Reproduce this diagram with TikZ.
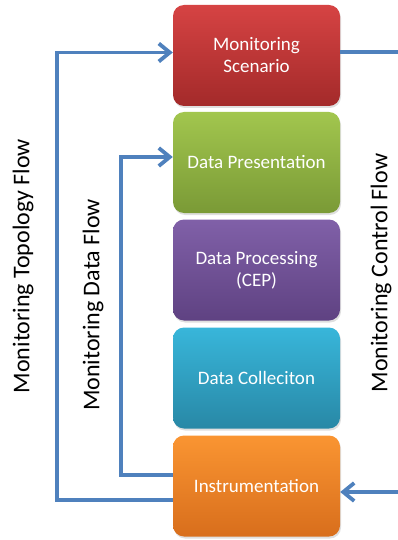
\documentclass[tikz,border=0pt]{standalone}
\usepackage{fontspec}
\setmainfont{Carlito}
\usetikzlibrary{arrows.meta,shadows}
\definecolor{flowblue}{HTML}{4F81BD}
\definecolor{redtop}{HTML}{D64343}\definecolor{redbot}{HTML}{A32A2A}
\definecolor{greentop}{HTML}{A2C64E}\definecolor{greenbot}{HTML}{7A9A36}
\definecolor{purptop}{HTML}{8060A8}\definecolor{purpbot}{HTML}{5F4282}
\definecolor{cyantop}{HTML}{38B6DA}\definecolor{cyanbot}{HTML}{2888A6}
\definecolor{orgtop}{HTML}{FA9532}\definecolor{orgbot}{HTML}{D86E1C}
\tikzset{
  layer/.style={draw=none, rounded corners=11pt, minimum width=167pt, minimum height=101pt,
    inner sep=0pt, align=center, text=white, font=\fontsize{19}{22}\selectfont,
    drop shadow={shadow xshift=1pt, shadow yshift=-2pt, opacity=0.25}},
  flow/.style={draw=flowblue, line width=3.8pt},
  flowarrow/.style={flow, -{Straight Barb[length=11pt,width=18pt]}},
  flowlabel/.style={rotate=90, font=\fontsize{24}{28}\selectfont, text=black, inner sep=0pt}
}
\begin{document}
\begin{tikzpicture}[x=1pt,y=-1pt]
\useasboundingbox (0,0) rectangle (398,540);
\node[layer, top color=redtop, bottom color=redbot] (scen) at (256.5,55.5) {Monitoring\\Scenario};
\node[layer, top color=greentop, bottom color=greenbot] (pres) at (256.5,162.5) {Data Presentation};
\node[layer, top color=purptop, bottom color=purpbot] (proc) at (256.5,270) {Data Processing\\(CEP)};
\node[layer, top color=cyantop, bottom color=cyanbot] (coll) at (256.5,378) {Data Colleciton};
\node[layer, top color=orgtop, bottom color=orgbot] (inst) at (256.5,486) {Instrumentation};
% free ends at the picture edge
\coordinate (ctrlout) at (398,52);
\coordinate (ctrlin) at (398,492);
\coordinate (topox) at (57,0);
\coordinate (datax) at (121,0);
% topology flow
\draw[flowarrow] ([yshift=-14pt]inst.west) -| (topox |- 0,52.5) -- (scen.west |- 0,52.5);
% data flow
\draw[flowarrow] ([yshift=11pt]inst.west) -| (datax |- 0,157) -- (pres.west |- 0,157);
% control flow
\draw[flow] (scen.east |- ctrlout) -- (ctrlout);
\draw[flowarrow] (ctrlin) -- (inst.east |- ctrlin);
% labels
\node[flowlabel] (ltopo) at (23,266) {Monitoring Topology Flow};
\node[flowlabel] (ldata) at (93,305) {Monitoring Data Flow};
\node[flowlabel] (lctrl) at (381,273) {Monitoring Control Flow};
\end{tikzpicture}
\end{document}
